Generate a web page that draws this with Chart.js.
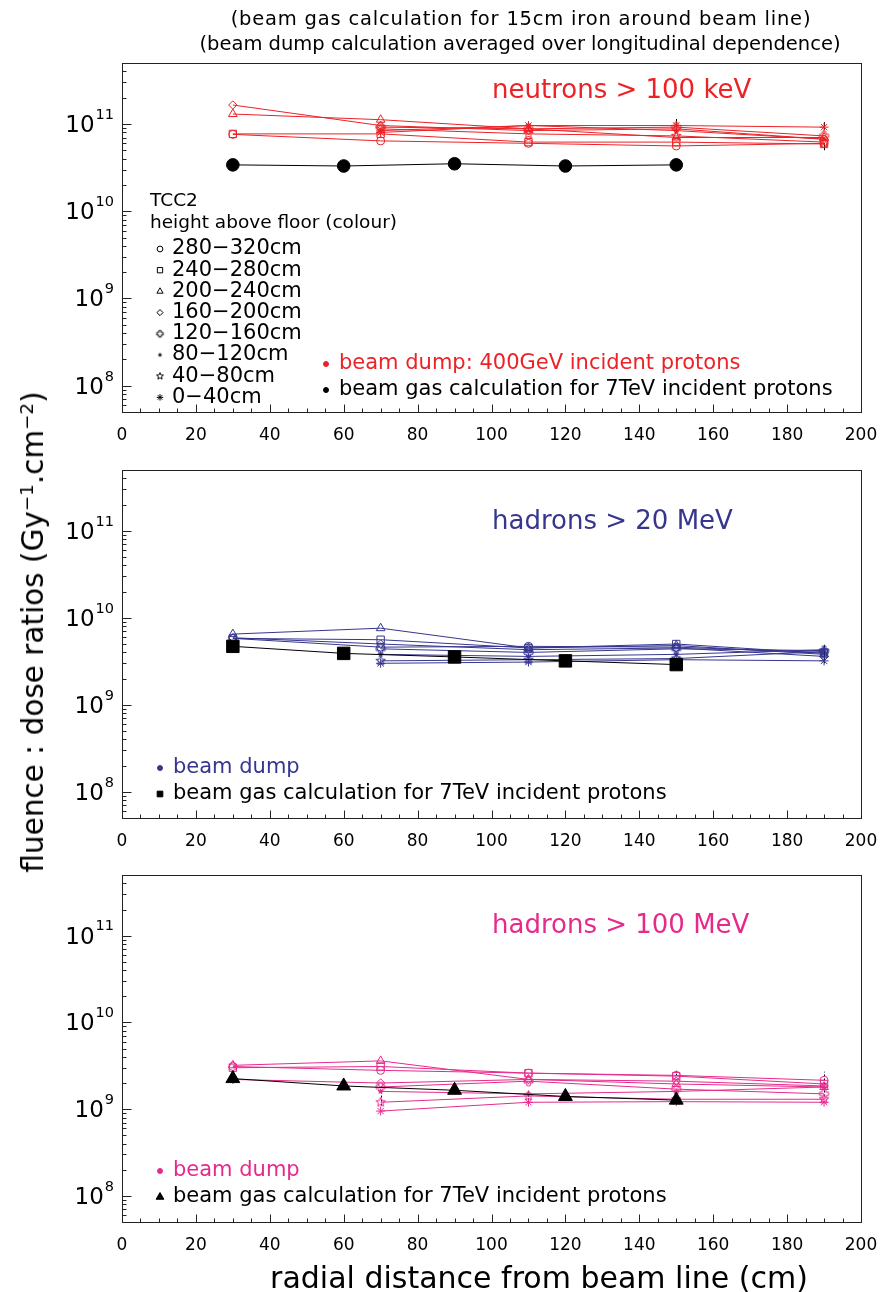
<!DOCTYPE html>
<html><head><meta charset="utf-8">
<script src="https://cdn.jsdelivr.net/npm/chart.js@4/dist/chart.umd.min.js"></script>
<style>
body{margin:0;background:#fff;}
#wrap{position:relative;width:884px;height:1292px;background:#fff;overflow:hidden;font-family:"DejaVu Sans",sans-serif;color:#000;}
canvas{position:absolute;left:0;}
.t{position:absolute;white-space:nowrap;transform:translate(-50%,-50%);}
sup{font-size:62%;vertical-align:0.55em;line-height:0;}
</style></head><body>
<div id="wrap">
<canvas id="c1" width="884" height="450" style="top:0px"></canvas>
<canvas id="c2" width="884" height="406" style="top:450px"></canvas>
<canvas id="c3" width="884" height="404" style="top:856px"></canvas>
<div class="t" style="left:521px;top:18px;font-size:19.5px;letter-spacing:0.8px;">(beam gas calculation for 15cm iron around beam line)</div>
<div class="t" style="left:520px;top:43px;font-size:19.5px;">(beam dump calculation averaged over longitudinal dependence)</div>
<div class="t" style="left:539px;top:1277px;font-size:30px;">radial distance from beam line (cm)</div>
<div class="t" style="left:33px;top:632px;font-size:29.5px;transform:translate(-50%,-50%) rotate(-90deg);">fluence : dose ratios (Gy<sup>−1</sup>.cm<sup>−2</sup>)</div>
</div>
<script>
// ---------------- data ----------------
const X_DUMP = [30, 70, 110, 150, 190];
const X_GAS = [30, 60, 90, 120, 150];
const HEIGHT_BINS = ['280−320cm','240−280cm','200−240cm','160−200cm','120−160cm','80−120cm','40−80cm','0−40cm'];
const Y_DECADES = [8, 9, 10, 11];
const X_TICK_LABELS = [0, 20, 40, 60, 80, 100, 120, 140, 160, 180, 200];

const neutronGas = [3.4e10, 3.3e10, 3.5e10, 3.3e10, 3.4e10];
const neutronDump = [
  [7.6e10, 6.4e10, 6.0e10, 5.6e10, 6.0e10],
  [7.7e10, 7.7e10, 6.2e10, 6.2e10, 5.9e10],
  [1.30e11, 1.12e11, 8.8e10, 7.0e10, 7.0e10],
  [1.65e11, 9.6e10, 8.4e10, 8.8e10, 6.7e10],
  [null, 9.2e10, 8.8e10, 9.2e10, 7.3e10],
  [null, 8.4e10, 9.6e10, 8.4e10, 6.7e10],
  [null, 8.8e10, 7.7e10, 7.3e10, 6.2e10],
  [null, 8.0e10, 9.6e10, 9.6e10, 9.2e10]
];
// error bars: [x, low, high]
const neutronErr = [[110, 8.4e10, 1.06e11], [150, 8.8e10, 1.14e11], [190, 8.6e10, 1.05e11], [190, 5.0e10, 6.0e10]];

const hadron20Gas = [4.7e9, 3.9e9, 3.55e9, 3.2e9, 2.9e9];
const hadron20Dump = [
  [5.8e9, 4.6e9, 4.7e9, 4.6e9, 4.0e9],
  [5.8e9, 5.6e9, 4.5e9, 5.0e9, 3.9e9],
  [6.5e9, 7.6e9, 4.5e9, 4.8e9, 3.8e9],
  [5.9e9, 5.0e9, 4.3e9, 4.5e9, 3.6e9],
  [null, 4.4e9, 4.0e9, 4.4e9, 4.2e9],
  [null, 3.8e9, 3.6e9, 3.8e9, 4.3e9],
  [null, 3.2e9, 3.3e9, 3.4e9, 4.1e9],
  [null, 3.0e9, 3.1e9, 3.3e9, 3.2e9]
];
const hadron20Err = [[190, 3.0e9, 4.9e9]];

const hadron100Gas = [2.25e9, 1.85e9, 1.65e9, 1.4e9, 1.27e9];
const hadron100Dump = [
  [3.1e9, 2.8e9, 2.6e9, 2.45e9, 2.15e9],
  [3.0e9, 3.1e9, 2.6e9, 2.4e9, 1.95e9],
  [3.2e9, 3.6e9, 2.2e9, 1.95e9, 1.8e9],
  [2.2e9, 2.0e9, 2.2e9, 2.1e9, 1.85e9],
  [null, 1.8e9, 2.1e9, 1.7e9, 1.5e9],
  [null, 1.6e9, 1.5e9, 1.6e9, 1.8e9],
  [null, 1.2e9, 1.42e9, 1.3e9, 1.3e9],
  [null, 0.95e9, 1.2e9, 1.22e9, 1.2e9]
];
const hadron100Err = [[70, 1.1e9, 1.65e9], [110, 1.25e9, 1.63e9], [150, 2.43e9, 2.77e9], [190, 1.4e9, 2.7e9]];

// ---------------- styling helpers ----------------
const FONT = '"DejaVu Sans", sans-serif';
const RED = '#ec2227', BLUE = '#36368f', PINK = '#e62a8c';

function starCanvas(color, R, filled) {
  const s = Math.ceil(R * 2 + 4), c = document.createElement('canvas');
  c.width = c.height = s;
  const g = c.getContext('2d');
  g.translate(s / 2, s / 2);
  g.beginPath();
  for (let i = 0; i < 10; i++) {
    const r = i % 2 ? R * 0.45 : R, a = -Math.PI / 2 + i * Math.PI / 5;
    g.lineTo(r * Math.cos(a), r * Math.sin(a));
  }
  g.closePath();
  if (filled) { g.fillStyle = color; g.fill(); }
  else { g.strokeStyle = color; g.lineWidth = 1; g.stroke(); }
  return c;
}
function openCrossCanvas(color, R) {
  const s = Math.ceil(R * 2 + 4), c = document.createElement('canvas');
  c.width = c.height = s;
  const g = c.getContext('2d');
  g.translate(s / 2, s / 2);
  const w = R * 0.38;
  g.beginPath();
  const pts = [[-w,-R],[w,-R],[w,-w],[R,-w],[R,w],[w,w],[w,R],[-w,R],[-w,w],[-R,w],[-R,-w],[-w,-w]];
  pts.forEach(p => g.lineTo(p[0], p[1]));
  g.closePath();
  g.strokeStyle = color; g.lineWidth = 1; g.stroke();
  return c;
}
function markerSet(color, scale) {
  return [
    { style: 'circle', r: 4 * scale },
    { style: 'rect', r: 5.2 * scale },
    { style: 'triangle', r: 5 * scale },
    { style: 'rectRot', r: 4.2 * scale },
    { style: openCrossCanvas(color, 4.5 * scale), r: 4 * scale },
    { style: starCanvas(color, 3.4 * scale, true), r: 3 * scale },
    { style: starCanvas(color, 5 * scale, false), r: 4 * scale },
    { style: 'star', r: 4.5 * scale }
  ];
}

function buildDatasets(color, dumpRows, gasVals, gasStyle, gasRadius) {
  const marks = markerSet(color, 1);
  const ds = [{
    data: X_GAS.map((x, i) => ({ x, y: gasVals[i] })),
    showLine: true, borderColor: '#000', borderWidth: 1,
    pointStyle: gasStyle, pointRadius: gasRadius,
    pointBackgroundColor: '#000', pointBorderColor: '#000', pointBorderWidth: 1
  }];
  dumpRows.forEach((row, k) => {
    ds.push({
      data: X_DUMP.map((x, i) => ({ x, y: row[i] })).filter(p => p.y != null),
      showLine: true, borderColor: color, borderWidth: 1,
      pointStyle: marks[k].style, pointRadius: marks[k].r,
      pointBackgroundColor: 'rgba(0,0,0,0)', pointBorderColor: color, pointBorderWidth: 1
    });
  });
  return ds;
}

function drawMarker(ctx, style, r, x, y, fill, stroke) {
  ctx.save();
  ctx.fillStyle = fill; ctx.strokeStyle = stroke; ctx.lineWidth = 1;
  if (Chart.helpers && Chart.helpers.drawPoint) {
    Chart.helpers.drawPoint(ctx, { pointStyle: style, radius: r, rotation: 0, borderWidth: 1 }, x, y);
  } else {
    ctx.beginPath(); ctx.arc(x, y, r, 0, Math.PI * 2); ctx.fill(); ctx.stroke();
  }
  ctx.restore();
}

const deco = {
  id: 'deco',
  beforeDatasetsDraw(chart, args, o) {
    const ctx = chart.ctx, xs = chart.scales.x, ys = chart.scales.y;
    if (!o.errors) return;
    ctx.save();
    ctx.strokeStyle = '#000'; ctx.lineWidth = 1;
    if (o.errDash) ctx.setLineDash(o.errDash);
    ctx.beginPath();
    o.errors.forEach(e => {
      const px = Math.round(xs.getPixelForValue(e[0])) + 0.5;
      ctx.moveTo(px, ys.getPixelForValue(e[1])); ctx.lineTo(px, ys.getPixelForValue(e[2]));
    });
    ctx.stroke();
    ctx.restore();
  },
  afterDraw(chart, args, o) {
    const ctx = chart.ctx, a = chart.chartArea, xs = chart.scales.x, ys = chart.scales.y;
    ctx.save();
    const L = Math.round(a.left) + 0.5, T = Math.round(a.top) + 0.5, R = Math.round(a.right) + 0.5, B = Math.round(a.bottom) + 0.5;
    ctx.strokeStyle = '#222'; ctx.lineWidth = 1;
    ctx.strokeRect(L, T, R - L, B - T);
    ctx.beginPath();
    for (let v = 0; v <= 200; v += 5) {
      const px = Math.round(xs.getPixelForValue(v)) + 0.5;
      const len = v % 20 === 0 ? 8 : 4;
      ctx.moveTo(px, B); ctx.lineTo(px, B - len);
    }
    for (let e = 7; e <= 11; e++) for (let m = 1; m <= 9; m++) {
      const v = m * Math.pow(10, e);
      if (v < ys.min || v > ys.max) continue;
      const py = Math.round(ys.getPixelForValue(v)) + 0.5;
      const len = m === 1 ? 9 : 4;
      ctx.moveTo(L, py); ctx.lineTo(L + len, py);
    }
    ctx.stroke();
    // x tick labels
    ctx.fillStyle = '#000'; ctx.font = '17px ' + FONT;
    ctx.textAlign = 'center'; ctx.textBaseline = 'middle';
    X_TICK_LABELS.forEach(v => ctx.fillText(String(v), xs.getPixelForValue(v), a.bottom + 24));
    // y tick labels with superscripts
    Y_DECADES.forEach(e => {
      const py = ys.getPixelForValue(Math.pow(10, e));
      ctx.font = '14.5px ' + FONT;
      const ex = String(e), ew = ctx.measureText(ex).width;
      const xr = 114;
      ctx.textBaseline = 'middle'; ctx.textAlign = 'left';
      ctx.fillText(ex, xr - ew, py - 9);
      ctx.font = '23px ' + FONT; ctx.textAlign = 'right';
      ctx.fillText('10', xr - ew - 1, py + 2);
    });
    // panel title
    ctx.textBaseline = 'middle'; ctx.textAlign = 'left';
    ctx.font = '26px ' + FONT; ctx.fillStyle = o.titleColor;
    ctx.fillText(o.title, o.titleX, o.titleY);
    // height legend
    if (o.heightLegend) {
      const hl = o.heightLegend;
      ctx.fillStyle = '#000'; ctx.font = '18.5px ' + FONT;
      ctx.fillText('TCC2', hl.x, hl.y0);
      ctx.fillText('height above floor (colour)', hl.x, hl.y1);
      const marks = markerSet('#000', 0.72);
      HEIGHT_BINS.forEach((lab, i) => {
        const y = hl.y2 + i * hl.dy;
        drawMarker(ctx, marks[i].style, marks[i].r, hl.x + 10, y, 'rgba(0,0,0,0)', '#000');
        ctx.fillStyle = '#000'; ctx.font = '21px ' + FONT;
        ctx.fillText(lab, hl.x + 22, y);
      });
    }
    // source legend
    const sl = o.srcLegend;
    ctx.font = '21px ' + FONT;
    sl.items.forEach((it, i) => {
      const y = sl.y + i * sl.dy;
      drawMarker(ctx, it.style, it.r, sl.x, y, it.color, it.color);
      ctx.fillStyle = it.color;
      ctx.fillText(it.text, sl.x + 13, y);
    });
    ctx.restore();
  }
};

function makeChart(id, padTop, datasets, decoOpts) {
  return new Chart(document.getElementById(id), {
    type: 'scatter',
    data: { datasets },
    plugins: [deco],
    options: {
      responsive: false, animation: false, devicePixelRatio: 1,
      layout: { padding: { top: padTop, right: 23, bottom: 0, left: 0 } },
      plugins: { legend: { display: false }, tooltip: { enabled: false }, deco: decoOpts },
      scales: {
        x: {
          type: 'linear', min: 0, max: 200,
          grid: { display: false, drawTicks: false }, border: { display: false },
          ticks: { display: false, stepSize: 20 },
          afterFit: s => { s.height = 38; }
        },
        y: {
          type: 'logarithmic', min: 5e7, max: 5e11,
          grid: { display: false, drawTicks: false }, border: { display: false },
          ticks: { display: false },
          afterFit: s => { s.width = 122; }
        }
      }
    }
  });
}

makeChart('c1', 63, buildDatasets(RED, neutronDump, neutronGas, 'circle', 6.3), {
  title: 'neutrons > 100 keV', titleColor: RED, titleX: 492, titleY: 91,
  errors: neutronErr,
  heightLegend: { x: 150, y0: 201, y1: 223, y2: 249, dy: 21.2 },
  srcLegend: { x: 326, y: 364, dy: 26, items: [
    { style: 'circle', r: 2.5, color: RED, text: 'beam dump: 400GeV incident protons' },
    { style: 'circle', r: 2.5, color: '#000', text: 'beam gas calculation for 7TeV incident protons' }
  ] }
});
makeChart('c2', 20, buildDatasets(BLUE, hadron20Dump, hadron20Gas, 'rect', 8.8), {
  title: 'hadrons > 20 MeV', titleColor: BLUE, titleX: 492, titleY: 72,
  errors: hadron20Err,
  srcLegend: { x: 160, y: 318, dy: 26, items: [
    { style: 'circle', r: 2.5, color: BLUE, text: 'beam dump' },
    { style: 'rect', r: 4, color: '#000', text: 'beam gas calculation for 7TeV incident protons' }
  ] }
});
makeChart('c3', 19, buildDatasets(PINK, hadron100Dump, hadron100Gas, 'triangle', 8), {
  title: 'hadrons > 100 MeV', titleColor: PINK, titleX: 492, titleY: 70,
  errors: hadron100Err, errDash: [2, 2],
  srcLegend: { x: 160, y: 315, dy: 26, items: [
    { style: 'circle', r: 2.5, color: PINK, text: 'beam dump' },
    { style: 'triangle', r: 4.5, color: '#000', text: 'beam gas calculation for 7TeV incident protons' }
  ] }
});
</script>
</body></html>
